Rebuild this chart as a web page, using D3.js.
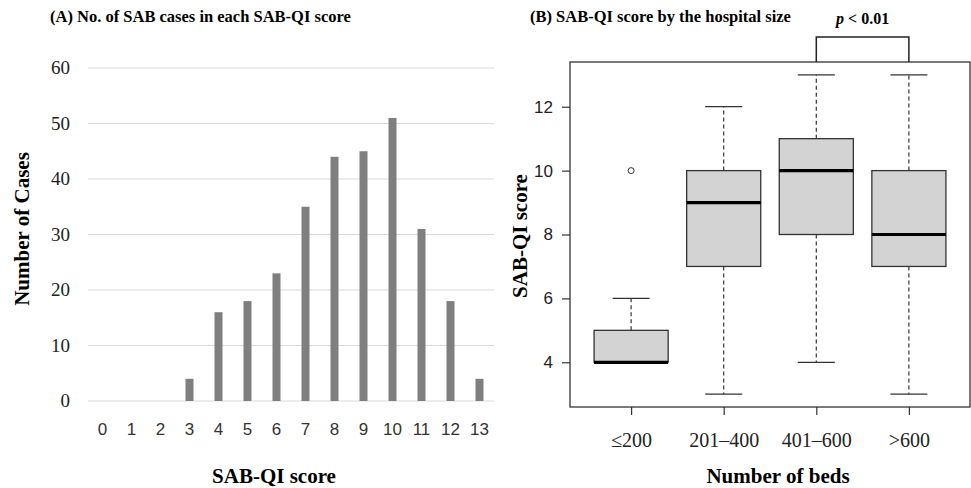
<!DOCTYPE html>
<html><head><meta charset="utf-8">
<script src="https://cdn.jsdelivr.net/npm/d3@7"></script>
<style>body{margin:0;background:#fff}svg{display:block}</style>
</head><body><svg id="c" width="971" height="488"></svg>
<script>
// Panel A data
const scores = [0,1,2,3,4,5,6,7,8,9,10,11,12,13];
const cases = [0,0,0,4,16,18,23,35,44,45,51,31,18,4];
const caseTicks = [0,10,20,30,40,50,60];
// Panel B data
const bedGroups = ["\u2264200","201\u2013400","401\u2013600",">600"];
const q1 = [4,7,8,7];
const medians = [4,9,10,8];
const q3 = [5,10,11,10];
const whiskLow = [4,3,4,3];
const whiskHigh = [6,12,13,13];
const outliers = [[10],[],[],[]];
const scoreTicks = [4,6,8,10,12];

const svg = d3.select("#c");
const serif = "'Liberation Serif','Times New Roman',serif";
const sans = "'Liberation Sans',Arial,sans-serif";

// ---------- Panel A ----------
const xA = d3.scaleBand().domain(scores).range([88,494]);
const yA = d3.scaleLinear().domain([0,60]).range([401,68]);
const gA = svg.append("g");
gA.append("text").attr("x",50).attr("y",22).attr("font-family",serif).attr("font-weight","bold")
  .attr("font-size",16.5).text("(A) No. of SAB cases in each SAB-QI score");
gA.selectAll("line.grid").data(caseTicks).join("line")
  .attr("x1",88).attr("x2",494).attr("y1",d=>yA(d)).attr("y2",d=>yA(d))
  .attr("stroke","#d9d9d9").attr("stroke-width",1);
gA.selectAll("text.yt").data(caseTicks).join("text")
  .attr("x",70).attr("y",d=>yA(d)+6).attr("text-anchor","end")
  .attr("font-family",serif).attr("font-size",19).attr("fill","#222").text(d=>d);
const bw = 8;
gA.selectAll("rect.bar").data(scores).join("rect")
  .attr("x",d=>xA(d)+xA.bandwidth()/2-bw/2).attr("width",bw)
  .attr("y",(d,i)=>yA(cases[i])).attr("height",(d,i)=>yA(0)-yA(cases[i]))
  .attr("fill","#7f7f7f");
gA.selectAll("text.xt").data(scores).join("text")
  .attr("x",d=>xA(d)+xA.bandwidth()/2).attr("y",435).attr("text-anchor","middle")
  .attr("font-family",sans).attr("font-size",17).attr("fill","#333").text(d=>d);
gA.append("text").attr("x",274).attr("y",483).attr("text-anchor","middle")
  .attr("font-family",serif).attr("font-weight","bold").attr("font-size",21).text("SAB-QI score");
gA.append("text").attr("transform","translate(29,229) rotate(-90)").attr("text-anchor","middle")
  .attr("font-family",serif).attr("font-weight","bold").attr("font-size",21).text("Number of Cases");

// ---------- Panel B ----------
const L=570,R=970,T=62,B=407;
const xB = d3.scaleLinear().domain([0.34,4.66]).range([L,R]);
const yB = d3.scaleLinear().domain([2.6,13.4]).range([B,T]);
const gB = svg.append("g");
gB.append("text").attr("x",530).attr("y",22).attr("font-family",serif).attr("font-weight","bold")
  .attr("font-size",16.5).text("(B) SAB-QI score by the hospital size");
const ink="#333";
gB.append("rect").attr("x",L).attr("y",T).attr("width",R-L).attr("height",B-T)
  .attr("fill","none").attr("stroke",ink).attr("stroke-width",1.3);
// y axis
const yAxis = d3.axisLeft(yB).tickValues(scoreTicks).tickSize(8).tickPadding(9);
const ya = gB.append("g").attr("transform",`translate(${L},0)`).call(yAxis);
ya.select(".domain").remove();
ya.selectAll("line").attr("stroke",ink).attr("stroke-width",1.2);
ya.selectAll("text").attr("font-family",sans).attr("font-size",17).attr("fill","#222");
// x axis
const xAxis = d3.axisBottom(xB).tickValues([1,2,3,4]).tickSize(8).tickPadding(18)
  .tickFormat(d=>bedGroups[d-1]);
const xa = gB.append("g").attr("transform",`translate(0,${B})`).call(xAxis);
xa.select(".domain").remove();
xa.selectAll("line").attr("stroke",ink).attr("stroke-width",1.2);
xa.selectAll("text").attr("font-family",serif).attr("font-size",20).attr("fill","#222");
// boxes
const idx = bedGroups.map((d,i)=>i);
const boxW = 0.4, capW = 0.2;
gB.selectAll("line.wl").data(idx).join("line")
  .attr("x1",i=>xB(i+1)).attr("x2",i=>xB(i+1)).attr("y1",i=>yB(q1[i])).attr("y2",i=>yB(whiskLow[i]))
  .attr("stroke",ink).attr("stroke-width",1.2).attr("stroke-dasharray","4,3");
gB.selectAll("line.wh").data(idx).join("line")
  .attr("x1",i=>xB(i+1)).attr("x2",i=>xB(i+1)).attr("y1",i=>yB(q3[i])).attr("y2",i=>yB(whiskHigh[i]))
  .attr("stroke",ink).attr("stroke-width",1.2).attr("stroke-dasharray","4,3");
gB.selectAll("line.cl").data(idx).join("line")
  .attr("x1",i=>xB(i+1-capW)).attr("x2",i=>xB(i+1+capW)).attr("y1",i=>yB(whiskLow[i])).attr("y2",i=>yB(whiskLow[i]))
  .attr("stroke",ink).attr("stroke-width",1.3);
gB.selectAll("line.ch").data(idx).join("line")
  .attr("x1",i=>xB(i+1-capW)).attr("x2",i=>xB(i+1+capW)).attr("y1",i=>yB(whiskHigh[i])).attr("y2",i=>yB(whiskHigh[i]))
  .attr("stroke",ink).attr("stroke-width",1.3);
gB.selectAll("rect.box").data(idx).join("rect")
  .attr("x",i=>xB(i+1-boxW)).attr("width",i=>xB(i+1+boxW)-xB(i+1-boxW))
  .attr("y",i=>yB(q3[i])).attr("height",i=>yB(q1[i])-yB(q3[i]))
  .attr("fill","#d3d3d3").attr("stroke",ink).attr("stroke-width",1.3);
gB.selectAll("line.med").data(idx).join("line")
  .attr("x1",i=>xB(i+1-boxW)).attr("x2",i=>xB(i+1+boxW)).attr("y1",i=>yB(medians[i])).attr("y2",i=>yB(medians[i]))
  .attr("stroke","#000").attr("stroke-width",3.2);
idx.forEach(i=>{
  gB.selectAll(null).data(outliers[i]).join("circle")
    .attr("cx",xB(i+1)).attr("cy",d=>yB(d)).attr("r",3)
    .attr("fill","none").attr("stroke",ink).attr("stroke-width",1);
});
// bracket
const by = 37;
gB.append("path").attr("d",`M${xB(3)},${T} V${by} H${xB(4)} V${T}`)
  .attr("fill","none").attr("stroke","#222").attr("stroke-width",1.5);
const pt = gB.append("text").attr("x",(xB(3)+xB(4))/2).attr("y",24).attr("text-anchor","middle")
  .attr("font-family",serif).attr("font-weight","bold").attr("font-size",16);
pt.append("tspan").attr("font-style","italic").text("p");
pt.append("tspan").text(" < 0.01");
// axis titles
gB.append("text").attr("x",xB(2.5)+8).attr("y",483).attr("text-anchor","middle")
  .attr("font-family",serif).attr("font-weight","bold").attr("font-size",21).text("Number of beds");
gB.append("text").attr("transform","translate(527,236) rotate(-90)").attr("text-anchor","middle")
  .attr("font-family",serif).attr("font-weight","bold").attr("font-size",21).text("SAB-QI score");
</script></body></html>
